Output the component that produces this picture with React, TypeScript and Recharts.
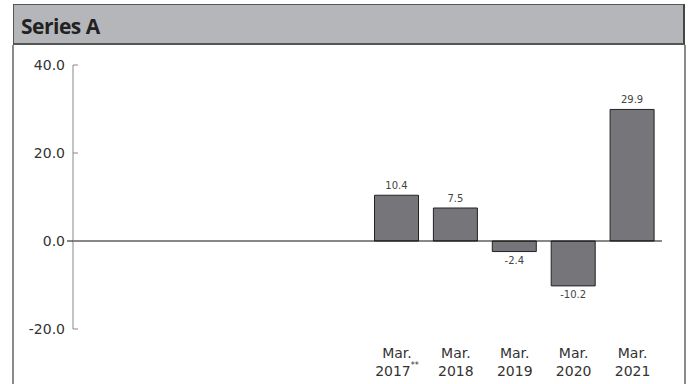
import React from "react";
import { BarChart, Bar, XAxis, YAxis, ReferenceLine, LabelList } from "recharts";

// Reporting periods; the first five slots are left empty on the axis
const periods = ["", "", "", "", "", "Mar. 2017", "Mar. 2018", "Mar. 2019", "Mar. 2020", "Mar. 2021"];
const periodMarks = ["", "", "", "", "", "**", "", "", "", ""];
const seriesA: (number | null)[] = [null, null, null, null, null, 10.4, 7.5, -2.4, -10.2, 29.9];
const yTicks = [-20, 0, 20, 40];

const data = periods.map((p, i) => ({ key: `p${i}`, period: p, mark: periodMarks[i], value: seriesA[i] }));

const tickFont = "'DejaVu Sans', 'Noto Sans', sans-serif";

const YTick = (props: any) => {
  const { x, y, payload } = props;
  const isZero = payload.value === 0;
  return (
    <g>
      <text x={x - 8} y={y} dy={5} textAnchor="end" fontFamily={tickFont} fontSize={14} fill="#333">
        {payload.value.toFixed(1)}
      </text>
      {isZero ? (
        <line x1={x - 6} x2={x} y1={y} y2={y} stroke="#111" strokeWidth={1} />
      ) : (
        <line x1={x} x2={x + 5} y1={y} y2={y} stroke="#888" strokeWidth={1} />
      )}
    </g>
  );
};

const XTick = (props: any) => {
  const { x, index } = props;
  const label = periods[index];
  if (!label) return null;
  const [l1, l2] = label.split(" ");
  const mark = periodMarks[index];
  // baselines measured from the bottom of the plot area (y = 329)
  const base = 329;
  return (
    <g>
      <text x={x} y={base + 29} textAnchor="middle" fontFamily={tickFont} fontSize={14} fill="#333">
        {l1}
      </text>
      <text x={x} y={base + 47} textAnchor="middle" fontFamily={tickFont} fontSize={14} fill="#333">
        {l2}
        {mark ? (
          <tspan fontSize={8} dy={-8}>
            {mark}
          </tspan>
        ) : null}
      </text>
    </g>
  );
};

const ValueLabel = (props: any) => {
  const { x, y, width, height, value } = props;
  if (value === null || value === undefined) return null;
  const cx = x + width / 2;
  const neg = value < 0;
  const top = Math.min(y, y + height);
  const bottom = Math.max(y, y + height);
  return (
    <text
      x={cx}
      y={neg ? bottom + 12 : top - 6}
      textAnchor="middle"
      fontFamily={tickFont}
      fontSize={10}
      fill="#444"
    >
      {value.toFixed(1)}
    </text>
  );
};

export default function App() {
  return (
    <div style={{ position: "absolute", left: 0, top: 0, width: 689, height: 384, background: "#fff", overflow: "hidden" }}>
      <div
        style={{
          position: "absolute",
          left: 13,
          top: 4,
          width: 672,
          height: 41,
          background: "#b5b6b9",
          borderTop: "1px solid #555",
          borderLeft: "1px solid #555",
          borderRight: "2px solid #444",
          borderBottom: "2px solid #555",
          boxSizing: "border-box",
        }}
      >
        <div
          style={{
            position: "absolute",
            left: 7,
            top: 7,
            fontFamily: "'Open Sans', 'Noto Sans', sans-serif",
            fontWeight: 700,
            fontSize: 21,
            color: "#222",
            letterSpacing: -0.5,
          }}
        >
          Series A
        </div>
      </div>
      <div style={{ position: "absolute", left: 12, top: 45, width: 2, height: 340, background: "#8a8a8a" }} />
      <div style={{ position: "absolute", left: 684, top: 45, width: 2, height: 340, background: "#8a8a8a" }} />
      <div style={{ position: "absolute", left: 0, top: 0 }}>
        <BarChart width={689} height={384} data={data} margin={{ top: 65, right: 27, bottom: 5, left: 0 }} barSize={44}>
          <XAxis dataKey="key" axisLine={false} tickLine={false} height={50} tick={<XTick />} interval={0} />
          <YAxis
            domain={[-20, 40]}
            ticks={yTicks}
            width={73}
            tickSize={0}
            tickMargin={0}
            tickLine={false}
            axisLine={{ stroke: "#888", strokeWidth: 1 }}
            tick={<YTick />}
            interval={0}
          />
          <Bar dataKey="value" fill="#76767a" stroke="#222" strokeWidth={1} isAnimationActive={false}>
            <LabelList dataKey="value" content={<ValueLabel />} />
          </Bar>
          <ReferenceLine y={0} stroke="#111" strokeWidth={1} />
        </BarChart>
      </div>
    </div>
  );
}
